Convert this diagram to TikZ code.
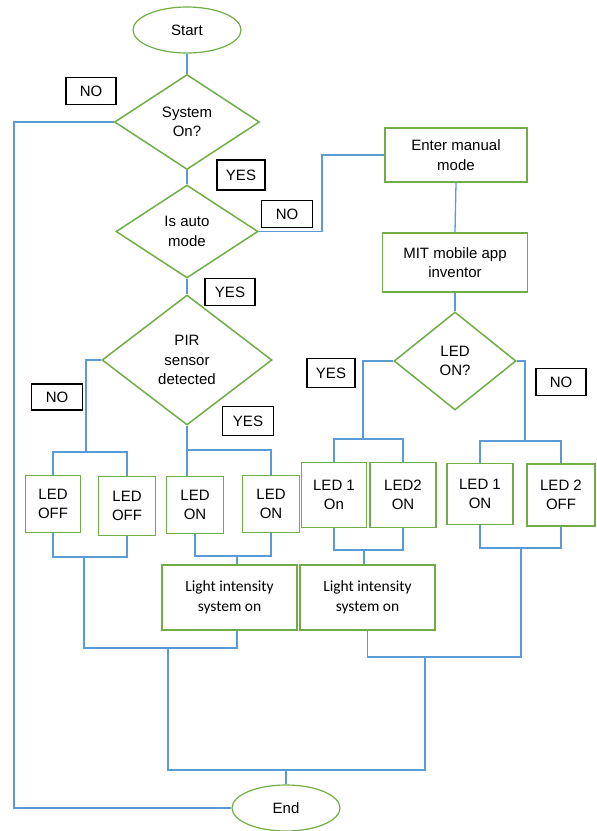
\documentclass[tikz,border=0pt]{standalone}
\usepackage{fontspec}
\setmainfont{Liberation Sans}
\newfontfamily\calib{Carlito}
\usetikzlibrary{shapes.geometric}
\definecolor{lineblue}{HTML}{5B9BD5}
\definecolor{shapegreen}{HTML}{70AD47}
\begin{document}
\begin{tikzpicture}[x=1pt,y=-1pt,
  font=\fontsize{15}{19.5}\selectfont,
  conn/.style={draw=lineblue, line width=1.3pt},
  gbox/.style={rectangle, draw=shapegreen, line width=1.5pt, inner sep=0pt, align=center, fill=white},
  dia/.style={diamond, draw=shapegreen, line width=1.5pt, inner sep=0pt, align=center},
  term/.style={ellipse, draw=shapegreen, line width=1.2pt, minimum width=108pt, minimum height=46pt, inner sep=0pt},
  lbl/.style={rectangle, draw=black, line width=1.3pt, minimum width=50pt, minimum height=27pt, inner sep=0pt},
  ltext/.style={font=\calib\fontsize{15.5}{20}\selectfont}
]
\useasboundingbox (0,0) rectangle (597,831);

% terminals and decisions
\node[term] (start) at (187,30) {Start};
\node[dia, minimum width=145pt, minimum height=95pt] (sys) at (187,122) {System\\On?};
\node[dia, minimum width=142pt, minimum height=93pt] (auto) at (187,231.5) {Is auto\\mode};
\node[dia, minimum width=170pt, minimum height=130pt] (pir) at (187,360) {PIR\\sensor\\detected};
\node[gbox, minimum width=142pt, minimum height=54pt] (manual) at (456,155) {Enter manual\\mode};
\node[gbox, minimum width=145pt, minimum height=59pt] (mit) at (455,262.5) {MIT mobile app\\inventor};
\node[dia, minimum width=122pt, minimum height=98pt] (ledon) at (455,361) {LED\\ON?};

% labels
\node[lbl] (lno1) at (91,91) {NO};
\node[lbl, minimum width=48pt, minimum height=30pt] (lyes1) at (241,175) {YES};
\node[lbl, minimum width=51pt] (lno2) at (287,214) {NO};
\node[lbl] (lyes2) at (230,292) {YES};
\node[lbl, minimum width=51pt, minimum height=26pt] (lno3) at (57,397) {NO};
\node[lbl, minimum width=51pt, minimum height=29pt] (lyes3) at (248,421) {YES};
\node[lbl, minimum width=48pt, minimum height=29pt] (lyes4) at (331,373) {YES};
\node[lbl] (lno4) at (561,382) {NO};

% LED boxes
\node[gbox, minimum width=55pt, minimum height=57pt] (b1) at (53,504) {LED\\OFF};
\node[gbox, minimum width=57pt, minimum height=59pt] (b2) at (127,506) {LED\\OFF};
\node[gbox, minimum width=57pt, minimum height=57pt] (b3) at (195,505) {LED\\ON};
\node[gbox, minimum width=57pt, minimum height=57pt] (b4) at (271,504) {LED\\ON};
\node[gbox, minimum width=65pt, minimum height=65pt] (b5) at (334,495) {LED 1\\On};
\node[gbox, minimum width=66pt, minimum height=65pt] (b6) at (403,495) {LED2\\ON};
\node[gbox, minimum width=66pt, minimum height=61pt] (b7) at (480,494) {LED 1\\ON};
\node[gbox, minimum width=68pt, minimum height=62pt] (b8) at (561,495) {LED 2\\OFF};

\node[gbox, ltext, minimum width=135pt, minimum height=65pt] (light1) at (229.5,597.5) {Light intensity\\system on};
\node[gbox, ltext, minimum width=135pt, minimum height=65pt] (light2) at (367.5,597.5) {Light intensity\\system on};

\node[term] (end) at (286,808) {End};

% junction coordinates
\coordinate (lx) at (14,122);
\coordinate (c1) at (322,155);
\coordinate (n1) at (86,452);
\coordinate (y1) at (187,450);
\coordinate (n2) at (84,557);
\coordinate (n3) at (237,556);
\coordinate (m1) at (168,648);
\coordinate (m2) at (168,770);
\coordinate (m3) at (425,657);
\coordinate (endj) at (286,770);
\coordinate (n4) at (521,548);
\coordinate (n6) at (364,550);
\coordinate (n7) at (363,439);
\coordinate (n8) at (525,441);
\coordinate (r1) at (521,657);

% connectors
\draw[conn] (start) -- (sys);
\draw[conn] (sys.west) -- (lx) |- (end.west);
\draw[conn] (sys.south) -- (auto.north);
\draw[conn] (auto.east) -| (c1) -- (manual.west);
\draw[conn] (manual.south) -- (mit.north);
\draw[conn] (mit.south) -- (ledon.north);
\draw[conn] (auto.south) -- (pir.north);

\draw[conn] (pir.west) -| (n1);
\draw[conn] (b1.north) |- (n1) -| (b2.north);
\draw[conn] (pir.south) -- (pir.south |- b3.north);
\draw[conn] (y1) -| (b4.north);

\draw[conn] (b1.south) |- (n2) -| (b2.south);
\draw[conn] (b3.south) |- (n3) -| (b4.south);
\draw[conn] (n3) -- (n3 |- light1.north);
\draw[conn] (n2) -- (n2 |- m1) -| (n3 |- light1.south);
\draw[conn] (m1) -- (m2) -| (m3);
\draw[conn] (endj) -- (end.north);

\draw[conn] (ledon.west) -| (n7);
\draw[conn] (b5.north) |- (n7) -| (b6.north);
\draw[conn] (ledon.east) -| (n8);
\draw[conn] (b7.north) |- (n8) -| (b8.north);

\draw[conn] (b5.south) |- (n6) -| (b6.south);
\draw[conn] (n6) -- (n6 |- light2.north);
\draw[conn] (b7.south) |- (n4) -| (b8.south);
\draw[conn] (light2.south) |- (r1) -- (n4);
\end{tikzpicture}
\end{document}
